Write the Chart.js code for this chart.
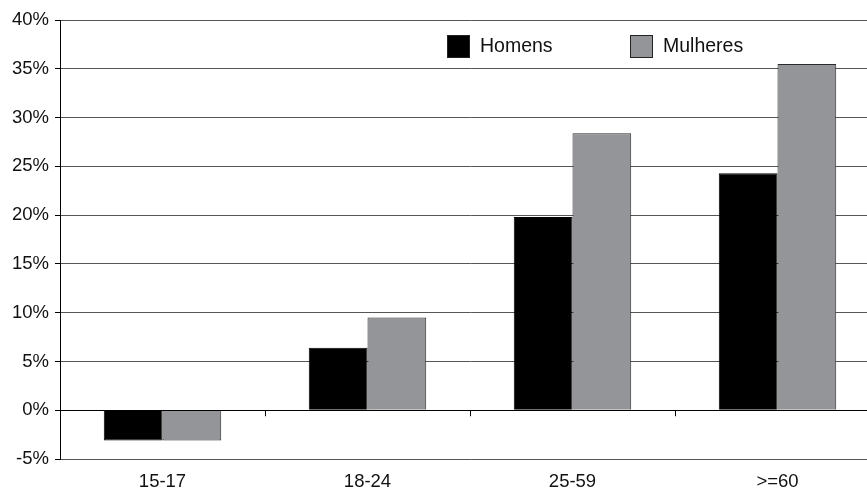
<!DOCTYPE html>
<html>
<head>
<meta charset="utf-8">
<script src="https://cdn.jsdelivr.net/npm/chart.js@4/dist/chart.umd.min.js"></script>
<style>
  html, body { margin: 0; padding: 0; background: #fff; overflow: hidden; }
  #wrap { width: 867px; height: 490px; overflow: hidden; }
</style>
</head>
<body>
<div id="wrap"><canvas id="c" width="880" height="490"></canvas></div>
<script>
// Age groups and shares (%) by sex
const categories = ['15-17', '18-24', '25-59', '>=60'];
const homens = [-3.1, 6.4, 19.8, 24.3];
const mulheres = [-3.1, 9.5, 28.4, 35.5];
const seriesNames = ['Homens', 'Mulheres'];
const yTicks = [-5, 0, 5, 10, 15, 20, 25, 30, 35, 40];

const FONT = 'Liberation Sans, Arial, Helvetica, sans-serif';

// Short tick marks between categories, drawn on the zero line
const zeroTicks = {
  id: 'zeroTicks',
  afterDatasetsDraw(chart) {
    const x = chart.scales.x, y = chart.scales.y, ctx = chart.ctx;
    const y0 = y.getPixelForValue(0);
    const half = (x.getPixelForValue(1) - x.getPixelForValue(0)) / 2;
    ctx.save();
    ctx.strokeStyle = '#000';
    ctx.lineWidth = 1;
    ctx.beginPath();
    ctx.moveTo(chart.chartArea.left, Math.round(y0) + 0.5);
    ctx.lineTo(chart.chartArea.right, Math.round(y0) + 0.5);
    for (let i = 0; i < categories.length - 1; i++) {
      const bx = Math.round(x.getPixelForValue(i) + half) + 0.5;
      ctx.moveTo(bx, y0);
      ctx.lineTo(bx, y0 + 6);
    }
    ctx.stroke();
    ctx.restore();
  }
};

// Legend placed inside the plot, upper right
const innerLegend = {
  id: 'innerLegend',
  afterDraw(chart) {
    const ctx = chart.ctx;
    const items = [
      { x: 447, ds: chart.data.datasets[0] },
      { x: 630, ds: chart.data.datasets[1] }
    ];
    ctx.save();
    ctx.font = '19.5px ' + FONT;
    ctx.textBaseline = 'middle';
    items.forEach(it => {
      ctx.fillStyle = it.ds.backgroundColor;
      ctx.fillRect(it.x, 35, 23, 23);
      ctx.strokeStyle = '#222';
      ctx.lineWidth = 1;
      ctx.strokeRect(it.x + 0.5, 35.5, 22, 22);
      ctx.fillStyle = '#111';
      ctx.fillText(it.ds.label, it.x + 33, 47);
    });
    ctx.restore();
  }
};

new Chart(document.getElementById('c'), {
  type: 'bar',
  data: {
    labels: categories,
    datasets: [
      { label: seriesNames[0], data: homens, backgroundColor: '#000000', borderColor: '#000000', borderWidth: 1 },
      { label: seriesNames[1], data: mulheres, backgroundColor: '#949598', borderColor: '#2a2a2a', borderWidth: 1 }
    ]
  },
  options: {
    responsive: false,
    animation: false,
    layout: { padding: { top: 20, right: 0, left: 0, bottom: 0 } },
    plugins: { legend: { display: false }, tooltip: { enabled: false } },
    datasets: { bar: { categoryPercentage: 0.573, barPercentage: 1.0 } },
    scales: {
      x: {
        grid: { display: false, drawTicks: false },
        border: { display: false },
        ticks: { color: '#111', font: { family: FONT, size: 18.5 }, padding: 12 },
        afterFit(s) { s.height = 31; }
      },
      y: {
        min: -5, max: 40,
        afterBuildTicks(s) { s.ticks = yTicks.map(v => ({ value: v })); },
        grid: { color: '#555', lineWidth: 1, tickLength: 5, tickColor: '#000' },
        border: { display: true, color: '#000', width: 1 },
        ticks: { color: '#111', font: { family: FONT, size: 18.5 }, padding: 6, callback: v => v + '%' },
        afterFit(s) { s.width = 60; }
      }
    }
  },
  plugins: [zeroTicks, innerLegend]
});
</script>
</body>
</html>
